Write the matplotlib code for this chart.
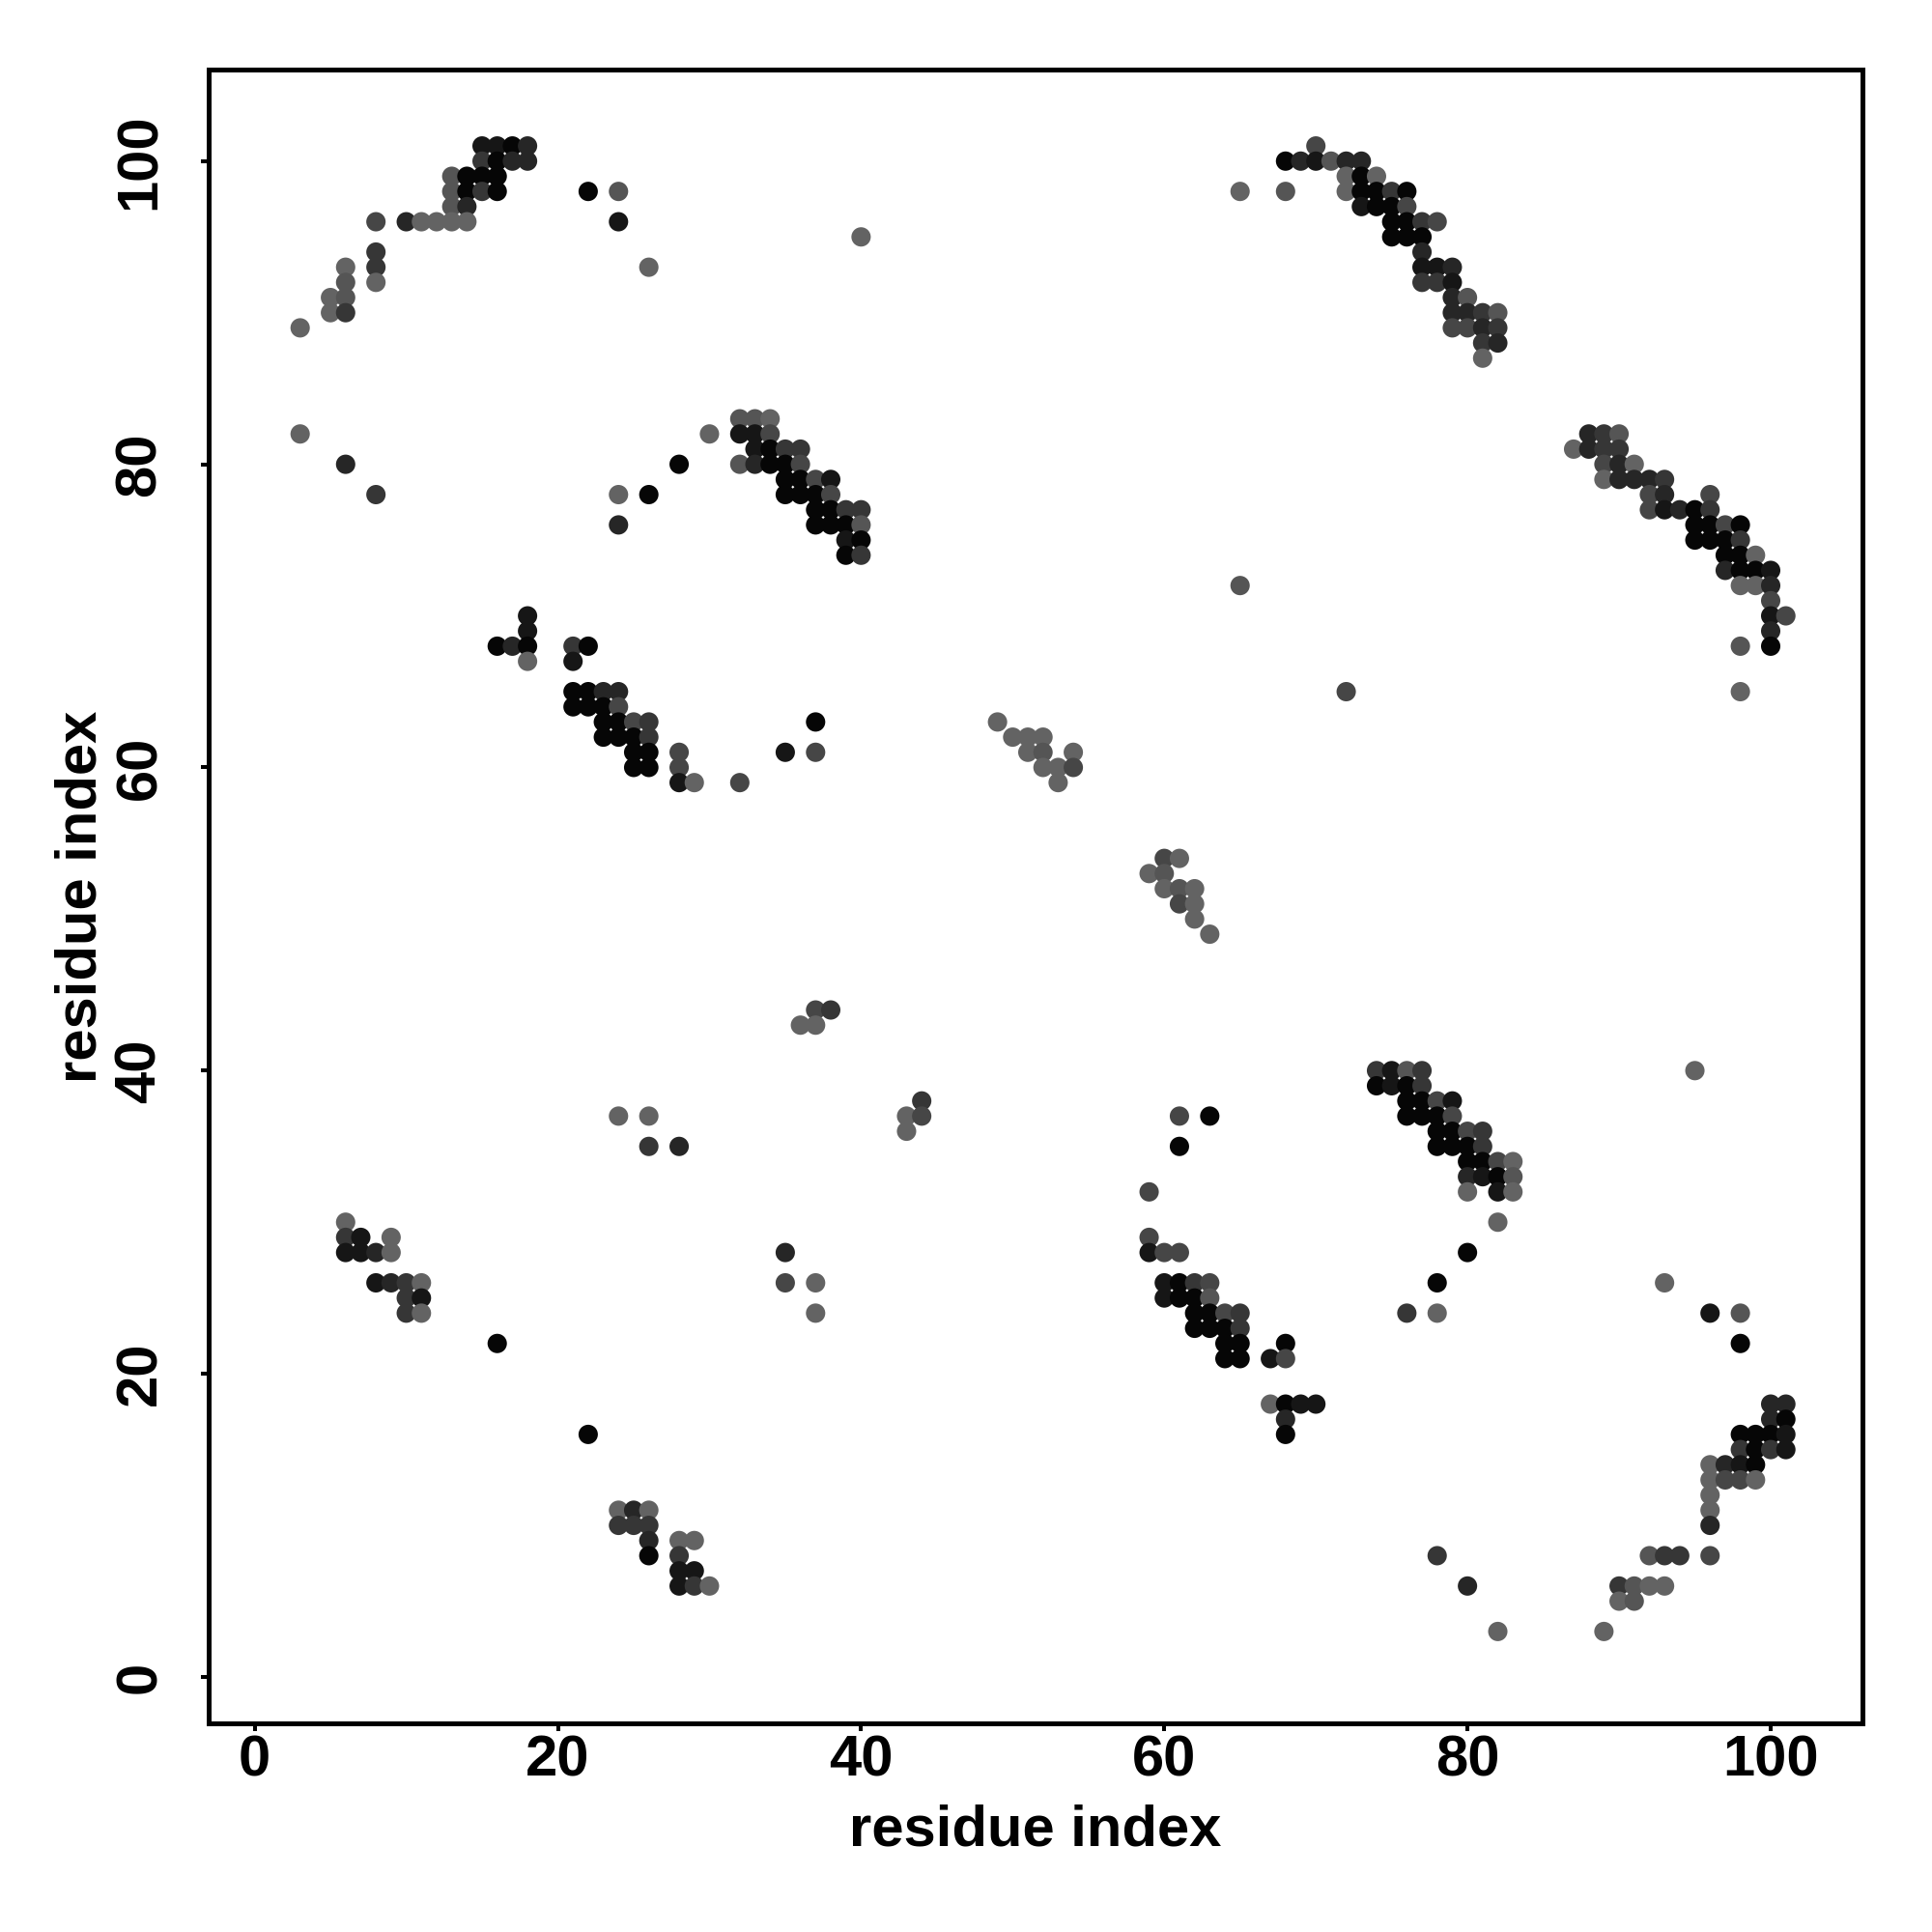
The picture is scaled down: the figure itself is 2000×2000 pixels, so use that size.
import matplotlib
matplotlib.use("Agg")
import matplotlib.pyplot as plt
import numpy as np

# ---- data: contact points, grouped by row (y = residue index) ----
row_y = [101, 100, 99, 98, 97, 96, 95, 94, 93, 92, 91, 90, 89, 88, 87,
         83, 82, 81, 80, 79, 78, 77, 76, 75, 74, 73, 72, 71, 70, 69, 68, 67,
         65, 64, 63, 62, 61, 60, 59, 54, 53, 52, 51, 50, 49, 44, 43,
         40, 39, 38, 37, 36, 35, 34, 33, 32, 30, 29, 28, 26, 25, 24, 23,
         22, 21, 18, 17, 16, 15, 14, 13, 12, 11, 10, 9, 8, 7, 6, 5, 3]

row_x = [
    [15, 16, 17, 18, 70],
    [15, 16, 17, 18, 68, 69, 70, 71, 72, 73],
    [13, 14, 15, 16, 72, 73, 74],
    [13, 14, 15, 16, 22, 24, 65, 68, 72, 73, 74, 75, 76],
    [13, 14, 73, 74, 75, 76],
    [8, 10, 11, 12, 13, 14, 24, 75, 76, 77, 78],
    [40, 75, 76, 77],
    [8, 77],
    [6, 8, 26, 77, 78, 79],
    [6, 8, 77, 78, 79],
    [5, 6, 79, 80],
    [5, 6, 79, 80, 81, 82],
    [3, 79, 80, 81, 82],
    [81, 82],
    [81],
    [32, 33, 34],
    [3, 30, 32, 33, 34, 88, 89, 90],
    [33, 34, 35, 36, 87, 88, 89, 90],
    [6, 28, 32, 33, 34, 35, 36, 89, 90, 91],
    [35, 36, 37, 38, 89, 90, 91, 92, 93],
    [8, 24, 26, 35, 36, 37, 38, 92, 93, 96],
    [37, 38, 39, 40, 92, 93, 94, 95, 96],
    [24, 37, 38, 39, 40, 95, 96, 97, 98],
    [39, 40, 95, 96, 97, 98],
    [39, 40, 97, 98, 99],
    [97, 98, 99, 100],
    [65, 98, 99, 100],
    [100],
    [18, 100, 101],
    [18, 100],
    [16, 17, 18, 21, 22, 98, 100],
    [18, 21],
    [21, 22, 23, 24, 72, 98],
    [21, 22, 23, 24],
    [23, 24, 25, 26, 37, 49],
    [23, 24, 25, 26, 50, 51, 52],
    [25, 26, 28, 35, 37, 51, 52, 54],
    [25, 26, 28, 52, 53, 54],
    [28, 29, 32, 53],
    [60, 61],
    [59, 60],
    [60, 61, 62],
    [61, 62],
    [62],
    [63],
    [37, 38],
    [36, 37],
    [74, 75, 76, 77, 95],
    [74, 75, 76, 77],
    [44, 76, 77, 78, 79],
    [24, 26, 43, 44, 61, 63, 76, 77, 78, 79],
    [43, 78, 79, 80, 81],
    [26, 28, 61, 78, 79, 80, 81],
    [80, 81, 82, 83],
    [80, 81, 82, 83],
    [59, 80, 82, 83],
    [6, 82],
    [6, 7, 9, 59],
    [6, 7, 8, 9, 35, 59, 60, 61, 80],
    [8, 9, 10, 11, 35, 37, 60, 61, 62, 63, 78, 93],
    [10, 11, 60, 61, 62, 63],
    [10, 11, 37, 62, 63, 64, 65, 76, 78, 96, 98],
    [62, 63, 64, 65],
    [16, 64, 65, 68, 98],
    [64, 65, 67, 68],
    [67, 68, 69, 70, 100, 101],
    [68, 100, 101],
    [22, 68, 98, 99, 100, 101],
    [98, 99, 100, 101],
    [96, 97, 98, 99],
    [96, 97, 98, 99],
    [96],
    [24, 25, 26, 96],
    [24, 25, 26, 96],
    [26, 28, 29],
    [26, 28, 78, 92, 93, 94, 96],
    [28, 29],
    [28, 29, 30, 80, 90, 91, 92, 93],
    [90, 91],
    [82, 89],
]

# shade level: 0 = darkest ... 6 = lightest grey
row_shade = [
    [1, 1, 0, 2, 4],
    [3, 0, 2, 2, 0, 2, 1, 5, 2, 2],
    [5, 0, 0, 0, 6, 0, 6],
    [5, 0, 3, 0, 0, 5, 6, 5, 6, 0, 0, 3, 0],
    [5, 2, 1, 0, 0, 4],
    [4, 2, 6, 6, 6, 6, 1, 0, 0, 3, 4],
    [6, 0, 0, 0],
    [3, 2],
    [6, 3, 6, 1, 1, 2],
    [5, 6, 3, 3, 1],
    [6, 5, 2, 5],
    [6, 3, 2, 2, 3, 5],
    [6, 4, 4, 2, 3],
    [3, 2],
    [6],
    [5, 5, 6],
    [6, 6, 1, 1, 4, 2, 3, 5],
    [1, 0, 3, 3, 6, 2, 3, 3],
    [2, 0, 5, 2, 0, 0, 4, 4, 2, 6],
    [0, 0, 4, 1, 6, 2, 2, 2, 3],
    [3, 6, 0, 0, 0, 0, 4, 4, 2, 4],
    [0, 0, 3, 3, 4, 1, 2, 0, 3],
    [2, 0, 0, 0, 5, 0, 0, 4, 0],
    [1, 0, 0, 0, 0, 3],
    [0, 3, 0, 0, 6],
    [2, 0, 0, 1],
    [5, 6, 6, 2],
    [4],
    [1, 1, 4],
    [1, 2],
    [0, 2, 0, 3, 0, 5, 0],
    [6, 1],
    [0, 0, 2, 2, 4, 6],
    [0, 0, 0, 4],
    [0, 0, 4, 3, 0, 6],
    [0, 0, 0, 3, 6, 6, 6],
    [0, 0, 4, 1, 4, 6, 5, 6],
    [0, 0, 4, 6, 6, 4],
    [1, 6, 4, 6],
    [4, 6],
    [6, 5],
    [6, 5, 6],
    [4, 6],
    [6],
    [6],
    [4, 3],
    [6, 6],
    [3, 1, 5, 3, 6],
    [0, 1, 0, 3],
    [3, 0, 0, 4, 1],
    [6, 6, 6, 4, 4, 0, 0, 0, 0, 4],
    [6, 0, 0, 4, 3],
    [3, 2, 0, 0, 0, 0, 3],
    [0, 0, 4, 6],
    [2, 1, 0, 5],
    [4, 6, 1, 6],
    [6, 6],
    [3, 1, 6, 4],
    [1, 1, 2, 6, 2, 1, 4, 4, 0],
    [1, 2, 3, 6, 4, 6, 1, 0, 3, 4, 0, 6],
    [3, 1, 1, 0, 0, 5],
    [3, 6, 6, 0, 0, 4, 3, 3, 6, 1, 5],
    [0, 0, 0, 3],
    [0, 0, 0, 0, 0],
    [0, 0, 1, 4],
    [6, 0, 1, 1, 2, 2],
    [2, 2, 0],
    [0, 0, 0, 0, 0, 1],
    [3, 0, 3, 1],
    [6, 2, 1, 0],
    [6, 4, 4, 6],
    [6],
    [6, 2, 6, 6],
    [3, 3, 3, 2],
    [2, 6, 6],
    [0, 3, 3, 5, 3, 3, 4],
    [1, 1],
    [1, 3, 6, 2, 3, 5, 6, 6],
    [6, 5],
    [6, 6],
]

x_ticks = [0, 20, 40, 60, 80, 100]
y_ticks = [0, 20, 40, 60, 80, 100]
x_label = "residue index"
y_label = "residue index"

shade_colors = ["#060606", "#161616", "#262626", "#363636",
                "#464646", "#555555", "#636363"]

# ---- build flat arrays ----
xs, ys, cs = [], [], []
for yv, xr, sr in zip(row_y, row_x, row_shade):
    for xv, sv in zip(xr, sr):
        xs.append(xv)
        ys.append(yv)
        cs.append(shade_colors[sv])

plt.rcParams['font.family'] = ['Liberation Sans', 'DejaVu Sans']

fig = plt.figure(figsize=(10, 10), dpi=200)
ax = fig.add_axes([0.1078, 0.108, 0.8561, 0.856])

ax.scatter(xs, ys, s=52, c=cs, linewidths=0, zorder=3)

ax.set_xlim(-3.06, 106.04)
ax.set_ylim(-3.06, 106.04)
ax.set_xticks(x_ticks)
ax.set_yticks(y_ticks)
ax.set_xticklabels([str(t) for t in x_ticks], fontsize=21.5, fontweight='bold')
ax.set_yticklabels([str(t) for t in y_ticks], fontsize=21.5, fontweight='bold',
                   rotation=90, va='center')
ax.tick_params(axis='both', direction='out', length=2.8, width=1.45,
               colors='black')
ax.tick_params(axis='x', pad=1.5)
ax.tick_params(axis='y', pad=12.5)
for sp in ax.spines.values():
    sp.set_linewidth(1.8)
    sp.set_color('black')

ax.set_xlabel(x_label, fontsize=21.5, fontweight='bold', labelpad=5.8)
ax.set_ylabel(y_label, fontsize=21.5, fontweight='bold', labelpad=2.5)

fig.savefig("out.png", dpi=200, facecolor='white')
